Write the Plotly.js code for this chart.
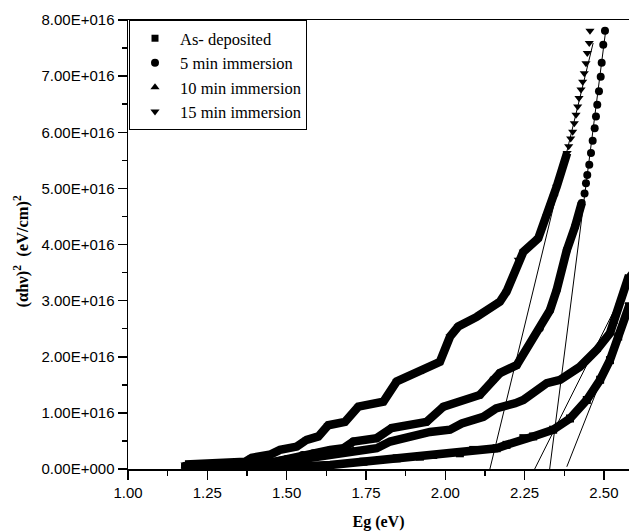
<!DOCTYPE html>
<html>
<head>
<meta charset="utf-8">
<script src="https://cdn.plot.ly/plotly-3.0.1.min.js"></script>
<style>html,body{margin:0;padding:0;background:#fff;}#chart{width:629px;height:531px;}</style>
</head>
<body>
<div id="chart"></div>
<script>
// Values of (alpha h nu)^2 in units of 1e16 (eV/cm)^2 ; Eg in eV
const SCALE = 1e16;
const seriesNames = ["As- deposited", "5 min immersion", "10 min immersion", "15 min immersion"];

// As-deposited (squares) - dense band
const asDepE = [1.18, 1.30, 1.40, 1.479, 1.55, 1.637, 1.742, 1.794, 1.847, 1.92, 1.962, 2.046, 2.088, 2.162, 2.193, 2.246, 2.277, 2.34, 2.393, 2.446, 2.488, 2.519, 2.545, 2.579];
const asDepY = [0.03, 0.03, 0.03, 0.04, 0.05, 0.07, 0.13, 0.16, 0.19, 0.22, 0.25, 0.28, 0.34, 0.37, 0.43, 0.55, 0.58, 0.70, 0.90, 1.23, 1.59, 1.94, 2.36, 2.90];

// 5 min immersion (circles) - dense band
const min5E = [1.18, 1.30, 1.40, 1.45, 1.479, 1.50, 1.55, 1.584, 1.637, 1.679, 1.71, 1.784, 1.831, 1.941, 1.994, 2.109, 2.151, 2.172, 2.225, 2.298, 2.33, 2.351, 2.383, 2.409, 2.43];
const min5Y = [0.06, 0.07, 0.09, 0.12, 0.15, 0.18, 0.25, 0.28, 0.34, 0.37, 0.49, 0.55, 0.73, 0.84, 1.11, 1.32, 1.59, 1.71, 1.85, 2.51, 2.83, 3.19, 3.90, 4.32, 4.74];
// 5 min immersion - individually visible points
const min5DotE = [2.439, 2.4434, 2.4475, 2.4538, 2.4592, 2.4645, 2.4708, 2.4749, 2.479, 2.4844, 2.4898, 2.4929, 2.4979, 2.5033];
const min5DotY = [4.91, 5.09, 5.24, 5.42, 5.63, 5.85, 6.07, 6.28, 6.49, 6.73, 6.99, 7.24, 7.56, 7.81];

// 10 min immersion (triangle up) - dense band
const min10E = [1.18, 1.30, 1.40, 1.45, 1.479, 1.542, 1.595, 1.68, 1.71, 1.784, 1.826, 1.92, 1.952, 2.015, 2.052, 2.12, 2.16, 2.22, 2.246, 2.32, 2.362, 2.424, 2.477, 2.519, 2.53, 2.551, 2.579];
const min10Y = [0.05, 0.06, 0.07, 0.09, 0.12, 0.17, 0.22, 0.30, 0.34, 0.37, 0.49, 0.61, 0.66, 0.70, 0.81, 0.93, 1.08, 1.17, 1.23, 1.53, 1.59, 1.82, 2.12, 2.42, 2.62, 2.98, 3.45];

// 15 min immersion (triangle down) - dense band
const min15E = [1.18, 1.25, 1.30, 1.35, 1.37, 1.39, 1.42, 1.45, 1.479, 1.495, 1.532, 1.563, 1.60, 1.631, 1.684, 1.726, 1.805, 1.847, 1.931, 1.983, 2.015, 2.041, 2.099, 2.172, 2.193, 2.230, 2.246, 2.293, 2.320, 2.343, 2.351, 2.384];
const min15Y = [0.08, 0.09, 0.10, 0.12, 0.13, 0.20, 0.23, 0.26, 0.34, 0.37, 0.40, 0.52, 0.58, 0.78, 0.84, 1.11, 1.20, 1.56, 1.76, 1.91, 2.36, 2.54, 2.71, 2.98, 3.16, 3.73, 3.87, 4.11, 4.50, 4.85, 5.03, 5.63];
// 15 min immersion - individually visible points
const min15DotE = [2.3889, 2.3952, 2.4015, 2.4066, 2.412, 2.4173, 2.4214, 2.4277, 2.433, 2.438, 2.4434, 2.4475, 2.4538, 2.456];
const min15DotY = [5.75, 5.89, 6.01, 6.16, 6.31, 6.46, 6.61, 6.76, 6.90, 7.05, 7.23, 7.41, 7.59, 7.81];

// Linear extrapolation lines (Tauc fits): endpoints
const fitAsDepE = [2.383, 2.579], fitAsDepY = [0.04, 2.85];
const fit5E = [2.329, 2.506], fit5Y = [0.0, 7.83];
const fit10E = [2.267, 2.551], fit10Y = [-0.166, 3.04];
const fit15E = [2.136, 2.466], fit15Y = [-0.107, 7.59];

const xTickVals = [1.00, 1.25, 1.50, 1.75, 2.00, 2.25, 2.50];
const xTickText = ["1.00", "1.25", "1.50", "1.75", "2.00", "2.25", "2.50"];
const yTickVals = [0, 1, 2, 3, 4, 5, 6, 7, 8];
const yTickText = ["0.00E+000", "1.00E+016", "2.00E+016", "3.00E+016", "4.00E+016", "5.00E+016", "6.00E+016", "7.00E+016", "8.00E+016"];

const sc = a => a.map(v => v * SCALE);
const symbols = ["square", "circle", "triangle-up", "triangle-down"];
const bandW = 8.5, mSize = 8;

function band(E, Y, sym) {
  return {x: E, y: sc(Y), mode: "lines+markers", showlegend: false, hoverinfo: "skip",
    line: {color: "#000", width: bandW}, marker: {symbol: sym, size: mSize, color: "#000"}};
}
function dots(E, Y, sym) {
  return {x: E, y: sc(Y), mode: "markers", showlegend: false, hoverinfo: "skip",
    marker: {symbol: sym, size: mSize, color: "#000"}};
}
function fit(E, Y) {
  return {x: E, y: sc(Y), mode: "lines", showlegend: false, hoverinfo: "skip",
    line: {color: "#000", width: 1}};
}
function leg(i) {
  return {x: [null], y: [null], mode: "markers", name: seriesNames[i], legendgroup: "g" + i,
    marker: {symbol: symbols[i], size: i === 0 ? 7 : 8, color: "#000"}};
}

const data = [
  band(asDepE, asDepY, symbols[0]),
  band(min5E, min5Y, symbols[1]), dots(min5DotE, min5DotY, symbols[1]),
  band(min10E, min10Y, symbols[2]),
  band(min15E, min15Y, symbols[3]), dots(min15DotE, min15DotY, symbols[3]),
  fit(fitAsDepE, fitAsDepY), fit(fit5E, fit5Y), fit(fit10E, fit10Y), fit(fit15E, fit15Y),
  leg(0), leg(1), leg(2), leg(3)
];

const tickFont = {family: "Liberation Sans, Arial, sans-serif", size: 15, color: "#000"};
const serif = "Liberation Serif, Times New Roman, serif";

const layout = {
  width: 629, height: 531,
  margin: {l: 128, r: 0, t: 20, b: 62},
  paper_bgcolor: "#fff", plot_bgcolor: "#fff",
  xaxis: {
    range: [1.0, 2.579], tickvals: xTickVals, ticktext: xTickText,
    ticks: "outside", ticklen: 9, tickwidth: 1.5, tickcolor: "#000",
    showline: true, linewidth: 1.5, linecolor: "#000", mirror: true,
    showgrid: false, zeroline: false, tickfont: tickFont,
    minor: {dtick: 0.125, tick0: 1, ticks: "outside", ticklen: 5, tickwidth: 1.5, tickcolor: "#000", showgrid: false},
    title: {text: "<b>Eg (eV)</b>", font: {family: serif, size: 16, color: "#000"}, standoff: 16}
  },
  yaxis: {
    range: [0, 8 * SCALE], tickvals: sc(yTickVals), ticktext: yTickText,
    ticks: "outside", ticklen: 9, tickwidth: 1.5, tickcolor: "#000",
    showline: true, linewidth: 1.5, linecolor: "#000", mirror: false,
    showgrid: false, zeroline: false, tickfont: tickFont,
    minor: {dtick: 0.5 * SCALE, tick0: 0, ticks: "outside", ticklen: 5, tickwidth: 1.5, tickcolor: "#000", showgrid: false}
  },
  annotations: [{
    text: "<b>(αhν)<sup>2</sup>&nbsp;&nbsp;(eV/cm)<sup>2</sup></b>",
    xref: "paper", yref: "paper", x: -0.212, y: 0.486,
    xanchor: "center", yanchor: "middle", textangle: -90, showarrow: false,
    font: {family: serif, size: 16.5, color: "#000"}
  }],
  legend: {
    x: 0.002, y: 1, xanchor: "left", yanchor: "top",
    bgcolor: "#fff", bordercolor: "#000", borderwidth: 1,
    font: {family: serif, size: 16.5, color: "#000"},
    itemwidth: 40, tracegroupgap: 0, traceorder: "normal"
  },
  showlegend: true
};

Plotly.newPlot("chart", data, layout, {staticPlot: true, displayModeBar: false});
</script>
</body>
</html>
